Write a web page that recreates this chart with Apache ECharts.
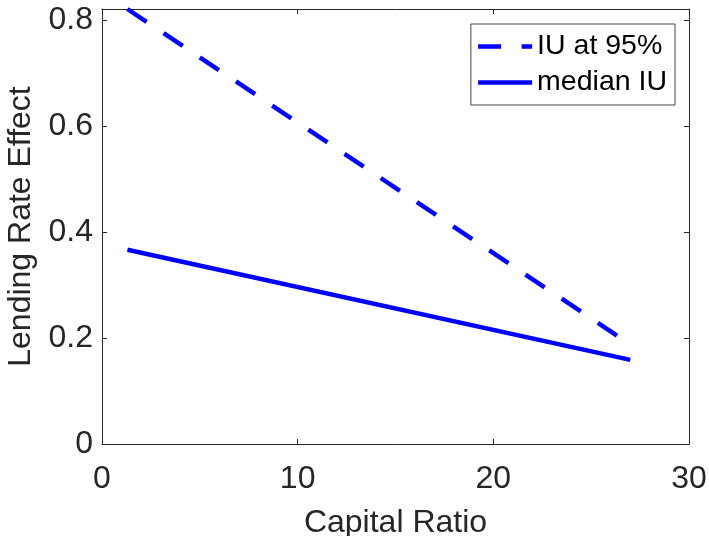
<!DOCTYPE html>
<html>
<head>
<meta charset="utf-8">
<script src="https://cdn.jsdelivr.net/npm/echarts@6/dist/echarts.min.js"></script>
<style>
html,body{margin:0;padding:0;background:#fff;}
#chart{width:709px;height:536px;}
</style>
</head>
<body>
<div id="chart"></div>
<script>
// Data
const capitalRatio = [1.3, 27];
const iuAt95 = [0.822, 0.188];
const medianIU = [0.367, 0.159];
const xTicks = [0, 10, 20, 30];
const yTicks = [0, 0.2, 0.4, 0.6, 0.8];
const seriesNames = ['IU at 95%', 'median IU'];

const FONT = 'Liberation Sans, Arial, Helvetica, sans-serif';
const AX = '#262626';
const xMin = xTicks[0], xMax = xTicks[xTicks.length - 1];
const yMin = 0, yMax = 0.822;

function pairs(xs, ys) { return xs.map((x, i) => [x, ys[i]]); }

const chart = echarts.init(document.getElementById('chart'), null, {renderer: 'canvas'});

const axisCommon = {
  axisLine: {show: true, onZero: false, lineStyle: {color: AX, width: 1}},
  axisTick: {show: true, inside: true, length: 5, lineStyle: {color: AX, width: 1}},
  splitLine: {show: false}
};

chart.setOption({
  animation: false,
  backgroundColor: '#fff',
  grid: {left: 102, right: 20, top: 9, bottom: 92, containLabel: false, outerBoundsMode: 'none'},
  legend: {
    orient: 'vertical',
    right: 34, top: 24,
    data: seriesNames,
    itemWidth: 54, itemHeight: 14, itemGap: 7,
    padding: [8, 8, 8, 5],
    backgroundColor: '#fff',
    borderColor: '#444', borderWidth: 1,
    lineStyle: {width: 4.5},
    itemStyle: {opacity: 0},
    textStyle: {fontFamily: FONT, fontSize: 28.5, color: '#000', lineHeight: 29}
  },
  xAxis: [
    Object.assign({}, axisCommon, {
      type: 'value', position: 'bottom', min: xMin, max: xMax, interval: 10,
      name: 'Capital Ratio', nameLocation: 'middle', nameGap: 63,
      nameTextStyle: {fontFamily: FONT, fontSize: 32, color: AX},
      axisLabel: {fontFamily: FONT, fontSize: 32, color: AX, margin: 19}
    }),
    Object.assign({}, axisCommon, {
      type: 'value', position: 'top', min: xMin, max: xMax, interval: 10,
      axisLabel: {show: false}
    })
  ],
  yAxis: [
    Object.assign({}, axisCommon, {
      type: 'value', position: 'left', min: yMin, max: yMax, interval: 0.2,
      name: 'Lending Rate Effect', nameLocation: 'middle', nameGap: 64, nameRotate: 90,
      nameTextStyle: {fontFamily: FONT, fontSize: 32, color: AX},
      axisLabel: {fontFamily: FONT, fontSize: 32, color: AX, margin: 9, showMaxLabel: false,
        formatter: v => (yTicks.some(t => Math.abs(t - v) < 1e-9) ? (v === 0 ? '0' : v.toFixed(1)) : '')}
    }),
    Object.assign({}, axisCommon, {
      type: 'value', position: 'right', min: yMin, max: yMax, interval: 0.2,
      axisLabel: {show: false}
    })
  ],
  series: [
    {
      name: seriesNames[0], type: 'line', xAxisIndex: 0, yAxisIndex: 0,
      data: pairs(capitalRatio, iuAt95), symbol: 'none', clip: true,
      lineStyle: {color: '#0000ff', width: 4.5, type: [23, 20.5], cap: 'butt'},
      itemStyle: {color: '#0000ff'}
    },
    {
      name: seriesNames[1], type: 'line', xAxisIndex: 0, yAxisIndex: 0,
      data: pairs(capitalRatio, medianIU), symbol: 'none', clip: true,
      lineStyle: {color: '#0000ff', width: 4.5, type: 'solid', cap: 'butt'},
      itemStyle: {color: '#0000ff'}
    }
  ]
});
</script>
</body>
</html>
